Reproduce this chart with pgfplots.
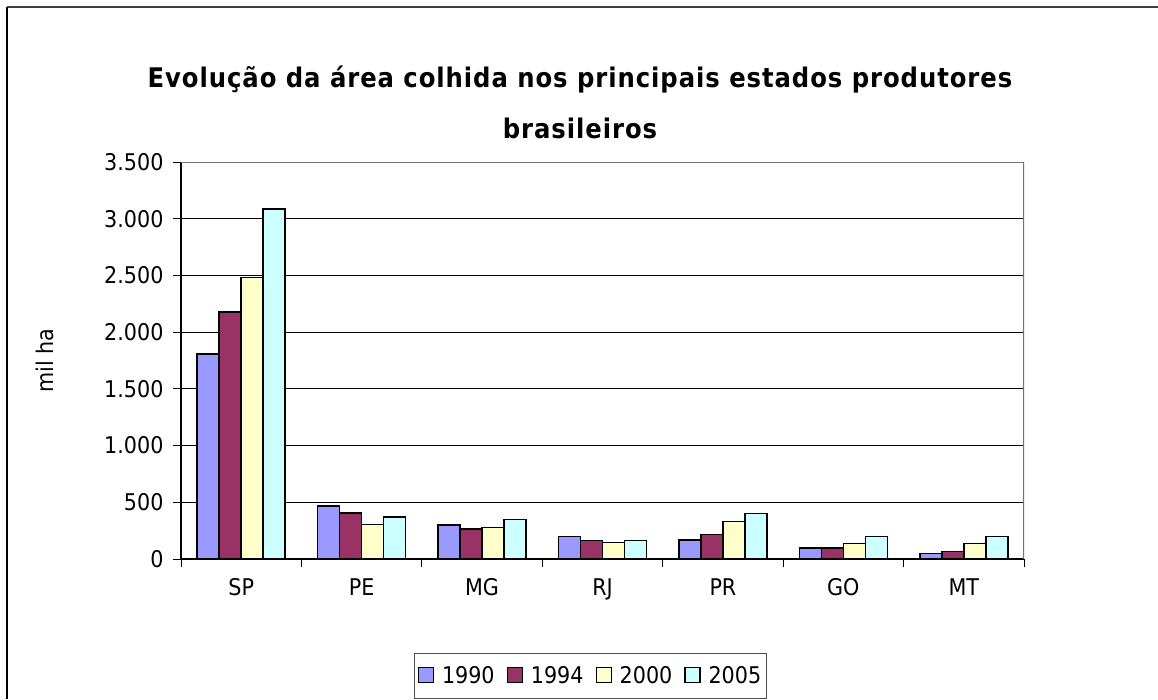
\documentclass[border=0pt]{standalone}
\usepackage{pgfplots}
\pgfplotsset{compat=1.18}
\usepackage{fontspec}
\setmainfont{DejaVu Sans Condensed}
\newfontfamily\titlefont[LetterSpace=3.5]{DejaVu Sans Condensed Bold}
\definecolor{cA}{HTML}{9999FF}
\definecolor{cB}{HTML}{993366}
\definecolor{cC}{HTML}{FFFFCC}
\definecolor{cD}{HTML}{CCFFFF}
\pgfplotstableread{
x y1990 y1994 y2000 y2005
0 1808 2178 2481 3084
1 467 406 303 370
2 300 265 279 349
3 197 164 146 164
4 168 217 332 402
5 97 97 135 199
6 49 67 135 199
}\datatab
\begin{document}
\begin{tikzpicture}[x=1pt,y=1pt]
\useasboundingbox (0pt,-699pt) rectangle (1158pt,0pt);
\draw[line width=2pt, color=black!75] (7pt,-7pt) -- (1158pt,-7pt);
\draw[line width=2pt, color=black] (7pt,-7pt) -- (7pt,-699pt);
\node[font=\fontsize{27}{51}\selectfont\titlefont, align=center] at (580pt,-102pt) {Evolução da área colhida nos principais estados produtores\\brasileiros};
\begin{axis}[
  at={(181pt,-559pt)}, anchor=south west,
  scale only axis, width=843pt, height=397pt,
  ymin=0, ymax=3500, xmin=-0.5, xmax=6.5,
  ybar=0pt, bar width=22pt,
  font=\fontsize{23}{27}\selectfont,
  /pgf/number format/assume math mode=true,
  axis x line*=bottom, axis y line*=left,
  axis line style={black, line width=1.2pt, -},
  ytick={0,500,...,3500},
  yticklabels={0,500,1.000,1.500,2.000,2.500,3.000,3.500},
  ymajorgrids, grid style={black, line width=1pt},
  ytick style={black, line width=1pt}, tick align=outside, major tick length=8pt,
  xtick={0,...,6}, xticklabels={SP,PE,MG,RJ,PR,GO,MT},
  xtick style={draw=none},
  extra x ticks={-0.5,0.5,...,6.5}, extra x tick labels={},
  extra x tick style={xtick style={black, line width=1pt, draw=black}, major tick length=8pt},
  xticklabel style={yshift=-8pt},
  yticklabel style={xshift=-6pt},
  ylabel={mil ha},
  ylabel style={at={(axis description cs:-0.1613,0.5)}, anchor=center},
  legend columns=4,
  legend style={at={(axis description cs:0.4858,-0.2368)}, anchor=north, draw=black!70, line width=1pt,
    font=\fontsize{23}{27}\selectfont, inner xsep=3pt, inner ysep=11pt,
    /tikz/every odd column/.append style={column sep=6pt},
    /tikz/every even column/.append style={column sep=10pt}},
  legend image code/.code={\draw[#1, line width=1.2pt] (0pt,-7pt) rectangle (15pt,8pt);},
]
\addplot[fill=cA, draw=black, line width=1.5pt] table[x=x, y=y1990] {\datatab};
\addplot[fill=cB, draw=black, line width=1.5pt] table[x=x, y=y1994] {\datatab};
\addplot[fill=cC, draw=black, line width=1.5pt] table[x=x, y=y2000] {\datatab};
\addplot[fill=cD, draw=black, line width=1.5pt] table[x=x, y=y2005] {\datatab};
\legend{1990,1994,2000,2005}
\draw[black!55, line width=1.2pt] (rel axis cs:0,1) -- (rel axis cs:1,1) -- (rel axis cs:1,0);
\end{axis}
\end{tikzpicture}
\end{document}
